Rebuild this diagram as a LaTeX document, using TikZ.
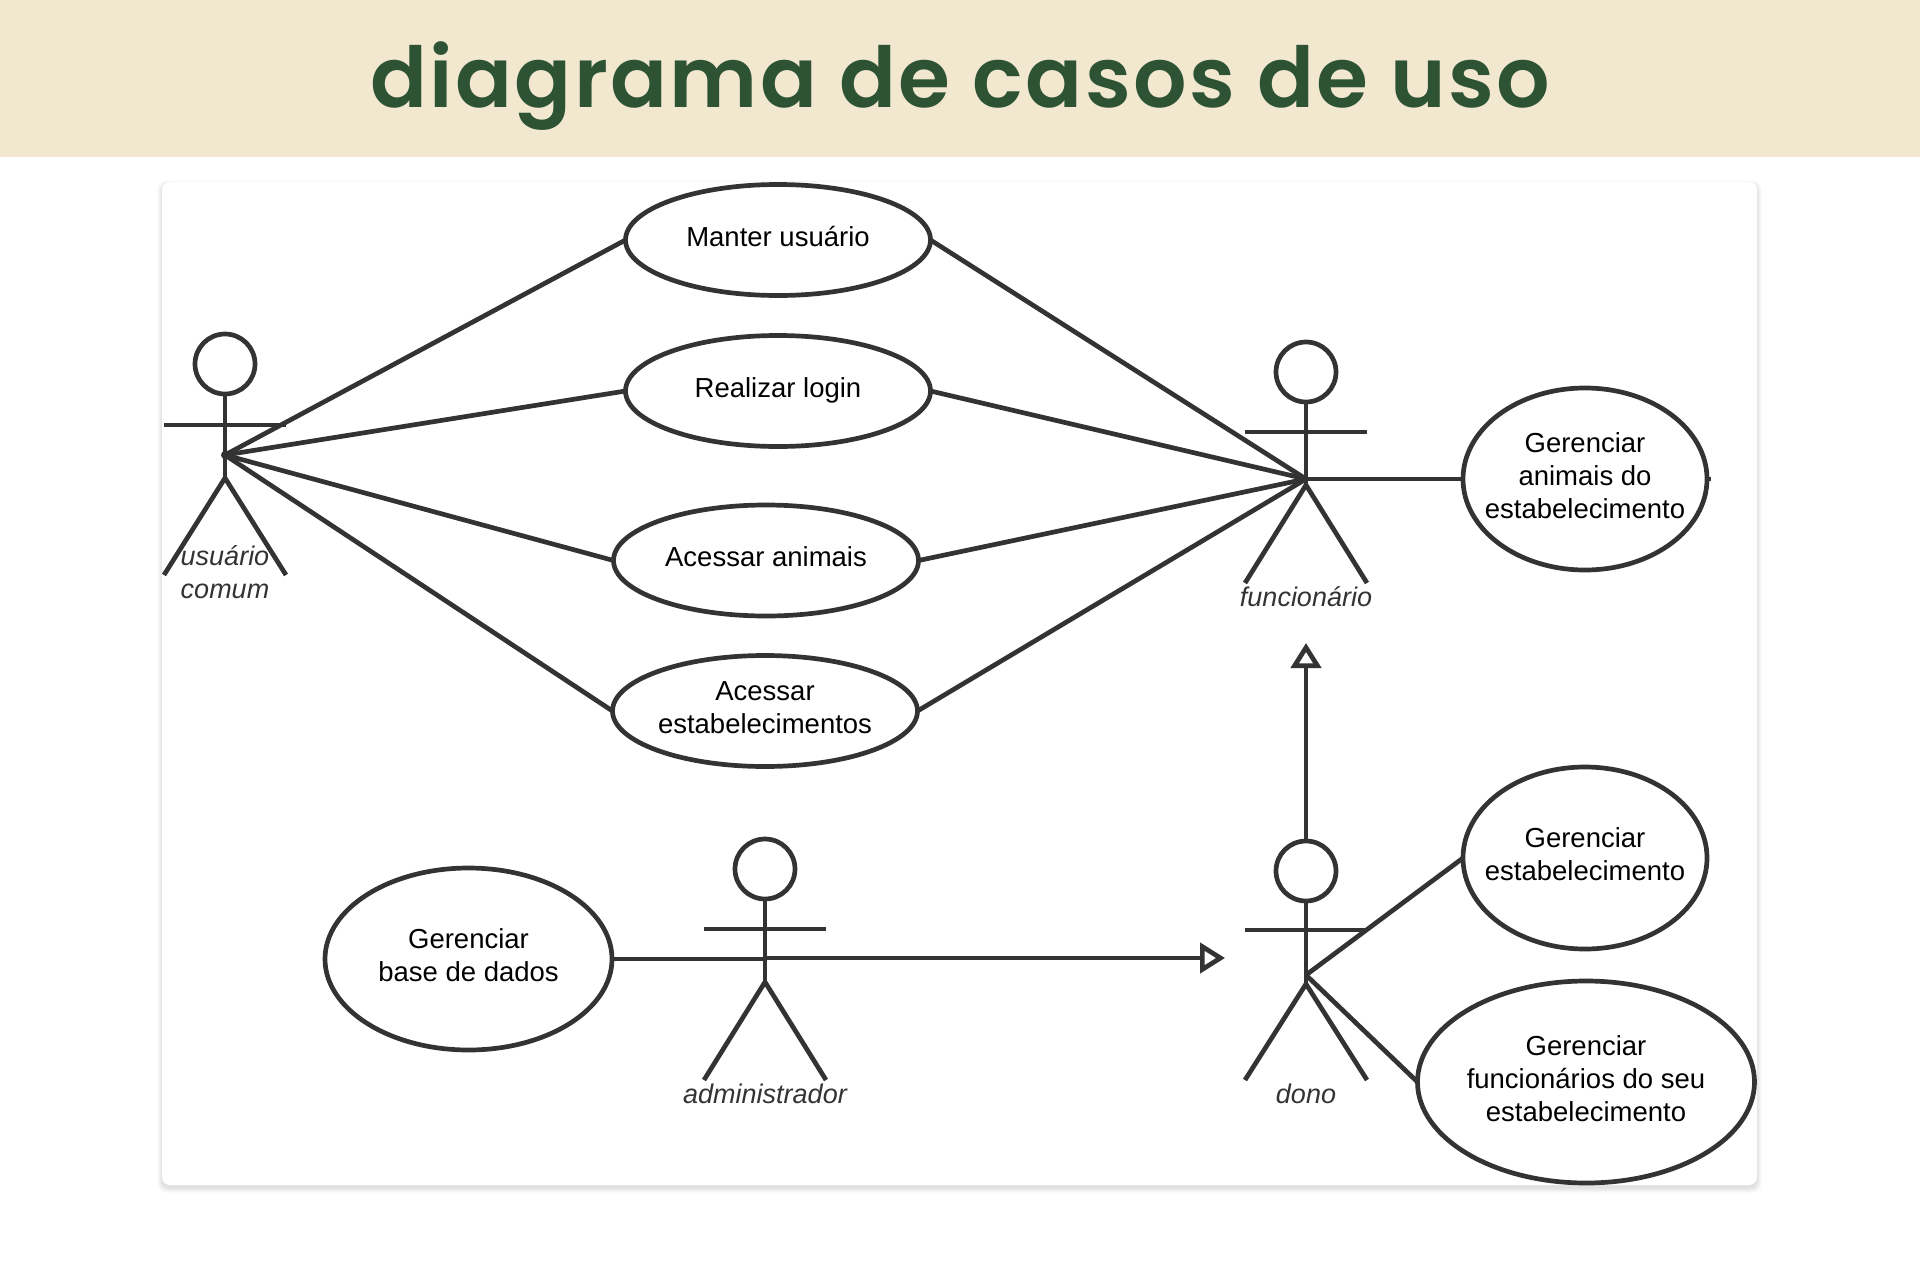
\documentclass[tikz,border=0pt]{standalone}
\usepackage{fontspec}
\setmainfont{Liberation Sans}
\newfontfamily\titlefont[LetterSpace=2.8]{Poppins SemiBold}
\usetikzlibrary{shapes.geometric,arrows.meta}
\definecolor{ink}{HTML}{333333}
\definecolor{banner}{HTML}{F2E8D0}
\definecolor{titlegreen}{HTML}{2D5334}
\tikzset{
  x=1pt,y=-1pt,
  usecase/.style={draw=ink,line width=4.7pt,ellipse,inner sep=0pt,outer sep=0pt},
  uc small/.style={usecase,minimum width=305pt,minimum height=111pt},
  uc mid/.style={usecase,minimum width=244pt,minimum height=182pt},
  uctext/.style={align=center,text=black,inner sep=0pt,yshift=3.5pt,font=\fontsize{27.5}{33}\selectfont},
  limb/.style={draw=ink,line width=4.7pt},
  link/.style={draw=ink,line width=4.7pt},
  headshape/.style={draw=ink,line width=4.7pt,circle,minimum size=60pt,inner sep=0pt,outer sep=0pt},
  actorlabel/.style={text=ink,font=\fontsize{27}{33}\selectfont\itshape,align=center,inner sep=0pt},
  inherit/.style={link,-{Triangle[open,length=25pt,width=30pt,line width=4.7pt]}},
}
\newcommand{\stickfig}[6]{% name, x, head y, arm y, crotch y, foot y
  \node[headshape] (#1head) at (#2,#3) {};
  \coordinate (#1crotch) at (#2,#5);
  \draw[limb] (#1head.south) -- (#1crotch);
  \draw[limb] (#2-61,#4) -- (#2+61,#4);
  \draw[limb] (#2-61,#6) -- (#1crotch) -- (#2+61,#6);
}
\newcommand{\usecasenode}[5]{% name, style, x, y, text
  \node[#2] (#1) at (#3,#4) {};
  \node[uctext] (#1text) at (#1.center) {#5};
}
\begin{document}
\begin{tikzpicture}
\useasboundingbox (0,0) rectangle (1920,1282);
\fill[white] (0,0) rectangle (1920,1282);
\fill[banner] (0,0) rectangle (1920,157);
\node[text=titlegreen,inner sep=0pt,anchor=base,font=\titlefont\fontsize{84}{100}\selectfont] (title) at (960.5,107) {diagrama de casos de uso};
% card
\foreach \g in {9,7,5,3,1}{
  \fill[black,opacity=0.025,rounded corners=9pt] (162-\g/2,182-\g/2+3) rectangle (1757+\g/2,1185+\g/2+3);
}
\fill[white,rounded corners=8pt] (162,182) rectangle (1757,1185);
% actors
\stickfig{usu}{225}{364}{425}{478}{575}
\stickfig{fun}{1306}{372}{432}{485}{583}
\stickfig{adm}{765}{869}{929}{982}{1080}
\stickfig{don}{1306}{871}{930}{984}{1080}
\coordinate (usuhub) at (225,455);
\coordinate (funhub) at (1306,479);
\coordinate (admhub) at (765,959);
\coordinate (donhub) at (1306,975);
\fill[ink] (usuhub) circle (4pt);
% actor labels
\node[actorlabel] (usulabel) at (225,572.5) {usuário\\comum};
\node[actorlabel] (funlabel) at (1306,596.5) {funcionário};
\node[actorlabel] (admlabel) at (765,1094) {administrador};
\node[actorlabel] (donlabel) at (1306,1094) {dono};
% use cases
\usecasenode{manter}{uc small}{778}{240}{Manter usuário}
\usecasenode{login}{uc small}{778}{391}{Realizar lo\smash{g}in}
\usecasenode{animais}{uc small}{766}{560.5}{Acessar animais}
\usecasenode{estabs}{uc small}{765}{711}{Acessar\\estabelecimentos}
\usecasenode{ganimais}{uc mid}{1585}{479}{Gerenciar\\animais do\\estabelecimento}
\usecasenode{gestab}{uc mid}{1585}{858}{Gerenciar\\estabelecimento}
\usecasenode{gfunc}{usecase,minimum width=337pt,minimum height=202pt}{1586}{1082}{Gerenciar\\funcionários do seu\\estabelecimento}
\usecasenode{gbase}{usecase,minimum width=287pt,minimum height=182pt}{468.5}{959}{Gerenciar\\base de dados}
% connectors
\draw[link] (usuhub) -- (manter.west);
\draw[link] (usuhub) -- (login.west);
\draw[link] (usuhub) -- (animais.west);
\draw[link] (usuhub) -- (estabs.west);
\draw[link] (manter.east) -- (funhub);
\draw[link] (login.east) -- (funhub);
\draw[link] (animais.east) -- (funhub);
\draw[link] (estabs.east) -- (funhub);
\draw[link] (funhub) -- (ganimais.west);
\coordinate (gnub) at ([xshift=4pt]ganimais.east);
\draw[draw=ink,line width=4pt] (ganimais.east) -- (gnub);
\draw[link] (gbase.east) -- (admhub);
\draw[link] (donhub) -- (gestab.west);
\draw[link] (donhub) -- (gfunc.west);
\coordinate (funarrow) at (1306,643);
\coordinate (donarrow) at (1225,958);
\draw[inherit] (donhead.north) -- (funarrow);
\draw[inherit] (admhub |- donarrow) -- (donarrow);
\end{tikzpicture}
\end{document}
